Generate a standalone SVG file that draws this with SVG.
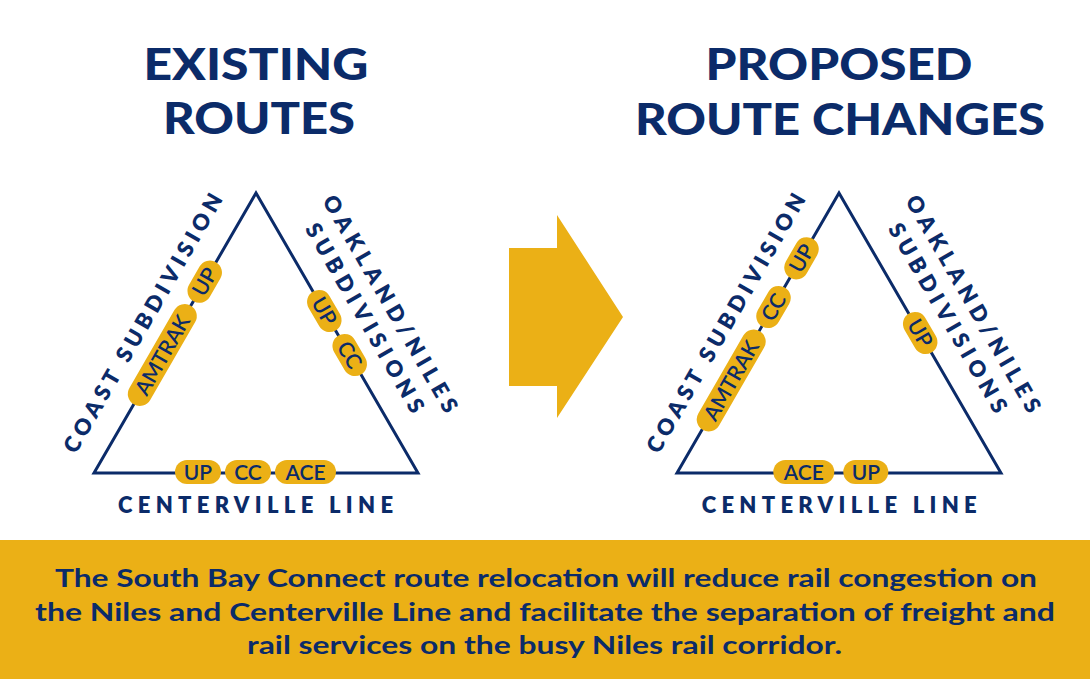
<svg xmlns="http://www.w3.org/2000/svg" width="1090" height="679" viewBox="0 0 1090 679">
<style>
.title{font-family:"Lato","Open Sans","Liberation Sans",sans-serif;font-weight:900;font-size:44px;fill:#0b2b69;text-anchor:middle}
.edge{fill:none;stroke:#0b2b69;stroke-width:3;stroke-linejoin:miter}
.pill rect{fill:#ebb016}
.pill text{font-family:"Lato","Open Sans","Liberation Sans",sans-serif;font-weight:600;font-size:21px;fill:#0b2b69;text-anchor:middle}
.lbl{font-family:"Lato","Open Sans","Liberation Sans",sans-serif;font-weight:800;font-size:22px;fill:#0b2b69;text-anchor:middle}
.band{font-family:"Lato","Open Sans","Liberation Sans",sans-serif;font-weight:700;font-size:25px;fill:#0b2b69;text-anchor:middle}
</style>
<rect width="1090" height="679" fill="#ffffff"/>

<g id="title-existing">
<text class="title" x="256" y="80" textLength="225" lengthAdjust="spacingAndGlyphs">EXISTING</text>
<text class="title" x="259" y="134" textLength="192" lengthAdjust="spacingAndGlyphs">ROUTES</text>
</g>
<g id="title-proposed">
<text class="title" x="839" y="80" textLength="267" lengthAdjust="spacingAndGlyphs">PROPOSED</text>
<text class="title" x="840" y="135" textLength="410" lengthAdjust="spacingAndGlyphs">ROUTE CHANGES</text>
</g>

<g id="connectors">
<polygon class="edge" points="256,193 94,473 418,473"/>
<polygon class="edge" points="839,193 677,473 1001,473"/>
</g>

<g id="arrow">
<polygon points="509,248 557,248 557,215 623,317 557,418 557,386 509,386" fill="#ebb016"/>
</g>

<!-- Existing triangle labels -->
<g id="l-label-coast"><text class="lbl" transform="translate(149.6,327) rotate(-60)" textLength="295" lengthAdjust="spacing">COAST SUBDIVISION</text></g>
<g id="l-label-oakland">
<text class="lbl" transform="translate(383.6,307.7) rotate(60)" textLength="247" lengthAdjust="spacing">OAKLAND/NILES</text>
<text class="lbl" transform="translate(358.2,321.8) rotate(60)" textLength="215" lengthAdjust="spacing">SUBDIVISIONS</text>
</g>
<g id="l-label-centerville"><text class="lbl" x="255.5" y="513" textLength="275" lengthAdjust="spacing">CENTERVILLE LINE</text></g>

<!-- Existing pills -->
<g id="l-coast-up" class="pill" transform="translate(204.7,281.7) rotate(-60)"><rect x="-22.5" y="-12" width="45" height="24" rx="12"/><text y="7.5">UP</text></g>
<g id="l-coast-amtrak" class="pill" transform="translate(162.3,355) rotate(-60)"><rect x="-57" y="-12" width="114" height="24" rx="12"/><text y="7.5">AMTRAK</text></g>
<g id="l-oak-up" class="pill" transform="translate(324.3,311) rotate(60)"><rect x="-22.5" y="-12" width="45" height="24" rx="12"/><text y="7.5">UP</text></g>
<g id="l-oak-cc" class="pill" transform="translate(349.7,355) rotate(60)"><rect x="-22.5" y="-12" width="45" height="24" rx="12"/><text y="7.5">CC</text></g>
<g id="l-cent-up" class="pill" transform="translate(198,472)"><rect x="-23" y="-12" width="46" height="24" rx="12"/><text y="7.5">UP</text></g>
<g id="l-cent-cc" class="pill" transform="translate(248,472)"><rect x="-23" y="-12" width="46" height="24" rx="12"/><text y="7.5">CC</text></g>
<g id="l-cent-ace" class="pill" transform="translate(305.5,472)"><rect x="-30.5" y="-12" width="61" height="24" rx="12"/><text y="7.5">ACE</text></g>

<!-- Proposed triangle labels -->
<g id="r-label-coast"><text class="lbl" transform="translate(732.6,327) rotate(-60)" textLength="295" lengthAdjust="spacing">COAST SUBDIVISION</text></g>
<g id="r-label-oakland">
<text class="lbl" transform="translate(966.6,307.7) rotate(60)" textLength="247" lengthAdjust="spacing">OAKLAND/NILES</text>
<text class="lbl" transform="translate(941.2,321.8) rotate(60)" textLength="215" lengthAdjust="spacing">SUBDIVISIONS</text>
</g>
<g id="r-label-centerville"><text class="lbl" x="839.2" y="513" textLength="275" lengthAdjust="spacing">CENTERVILLE LINE</text></g>

<!-- Proposed pills -->
<g id="r-coast-up" class="pill" transform="translate(801.5,258.3) rotate(-60)"><rect x="-22.5" y="-12" width="45" height="24" rx="12"/><text y="7.5">UP</text></g>
<g id="r-coast-cc" class="pill" transform="translate(773.5,307) rotate(-60)"><rect x="-22.5" y="-12" width="45" height="24" rx="12"/><text y="7.5">CC</text></g>
<g id="r-coast-amtrak" class="pill" transform="translate(731.2,380.5) rotate(-60)"><rect x="-57" y="-12" width="114" height="24" rx="12"/><text y="7.5">AMTRAK</text></g>
<g id="r-oak-up" class="pill" transform="translate(920.2,333) rotate(60)"><rect x="-22.5" y="-12" width="45" height="24" rx="12"/><text y="7.5">UP</text></g>
<g id="r-cent-ace" class="pill" transform="translate(803.8,472)"><rect x="-30.5" y="-12" width="61" height="24" rx="12"/><text y="7.5">ACE</text></g>
<g id="r-cent-up" class="pill" transform="translate(865.8,472)"><rect x="-22.5" y="-12" width="45" height="24" rx="12"/><text y="7.5">UP</text></g>

<g id="summary-band">
<rect x="0" y="540" width="1090" height="139" fill="#ebb016"/>
<text class="band" x="546" y="587" textLength="982" lengthAdjust="spacingAndGlyphs">The South Bay Connect route relocation will reduce rail congestion on</text>
<text class="band" x="545" y="621" textLength="1020" lengthAdjust="spacingAndGlyphs">the Niles and Centerville Line and facilitate the separation of freight and</text>
<text class="band" x="544.5" y="654" textLength="595" lengthAdjust="spacingAndGlyphs">rail services on the busy Niles rail corridor.</text>
</g>
</svg>
